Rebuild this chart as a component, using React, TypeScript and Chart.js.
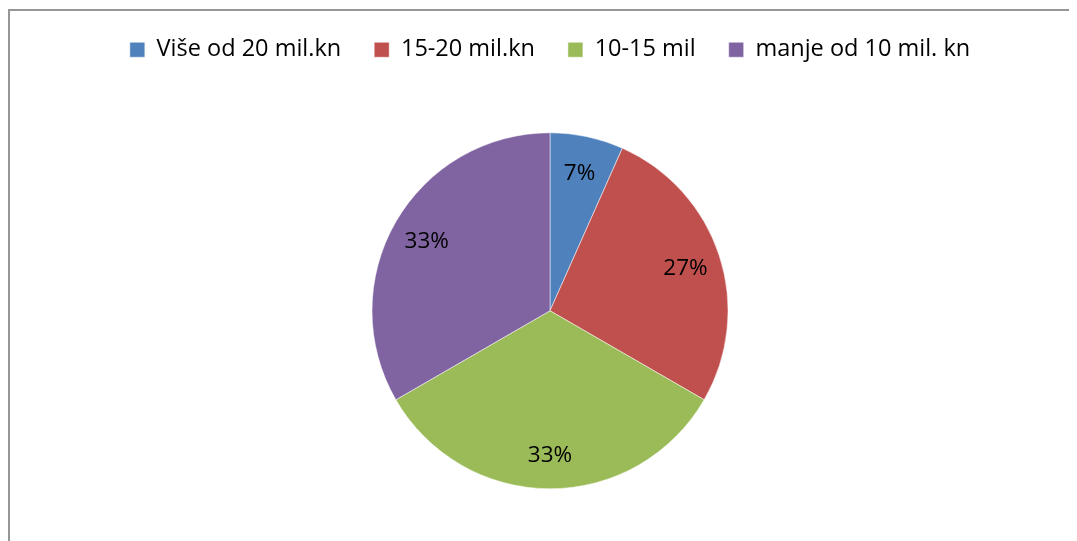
import React, { useEffect, useRef } from 'react';
import { Chart, registerables } from 'chart.js';

Chart.register(...registerables);

const categories = ['Više od 20 mil.kn', '15-20 mil.kn', '10-15 mil', 'manje od 10 mil. kn'];
const counts = [1, 4, 5, 5];
const colors = ['#4F81BD', '#C0504D', '#9BBB59', '#8064A2'];

const FONT = "'Open Sans', 'Noto Sans', sans-serif";

const pctLabels = {
  id: 'pctLabels',
  afterDatasetsDraw(chart: any) {
    const ctx = chart.ctx;
    const meta = chart.getDatasetMeta(0);
    const data = chart.data.datasets[0].data as number[];
    const total = data.reduce((a, b) => a + b, 0);
    ctx.save();
    ctx.font = `22.5px ${FONT}`;
    ctx.fillStyle = '#000';
    ctx.textAlign = 'center';
    ctx.textBaseline = 'middle';
    meta.data.forEach((arc: any, i: number) => {
      const { x, y, startAngle, endAngle, outerRadius } = arc.getProps(
        ['x', 'y', 'startAngle', 'endAngle', 'outerRadius'],
        true
      );
      const mid = (startAngle + endAngle) / 2;
      const r = outerRadius * 0.8;
      ctx.fillText(
        Math.round((data[i] / total) * 100) + '%',
        x + Math.cos(mid) * r,
        y + Math.sin(mid) * r + 2
      );
    });
    ctx.restore();
  },
};

export default function App() {
  const ref = useRef<HTMLCanvasElement>(null);

  useEffect(() => {
    document.documentElement.style.overflow = 'hidden';
    document.body.style.overflow = 'hidden';
    const chart = new Chart(ref.current!, {
      type: 'pie',
      data: {
        labels: categories,
        datasets: [
          {
            data: counts,
            backgroundColor: colors,
            borderColor: '#ffffff',
            borderWidth: 0.5,
            radius: 178,
          } as any,
        ],
      },
      options: {
        animation: false,
        responsive: false,
        maintainAspectRatio: false,
        layout: { padding: { left: 15, right: 0, top: 0, bottom: 15 } },
        plugins: {
          legend: {
            position: 'top',
            labels: {
              boxWidth: 15,
              boxHeight: 15,
              padding: 33,
              color: '#000',
              font: { family: FONT, size: 23.5 },
            },
          },
          tooltip: { enabled: false },
        },
      },
      plugins: [pctLabels],
    });
    return () => chart.destroy();
  }, []);

  return (
    <div
      style={{
        position: 'relative',
        marginTop: 1,
        width: 1067,
        height: 530,
        overflow: 'hidden',
        borderLeft: '2px solid #969696',
        borderTop: '2px solid #969696',
      }}
    >
      <canvas
        ref={ref}
        width={1069}
        height={560}
        style={{ position: 'absolute', left: -2, top: -6, width: 1069, height: 560 }}
      />
    </div>
  );
}
